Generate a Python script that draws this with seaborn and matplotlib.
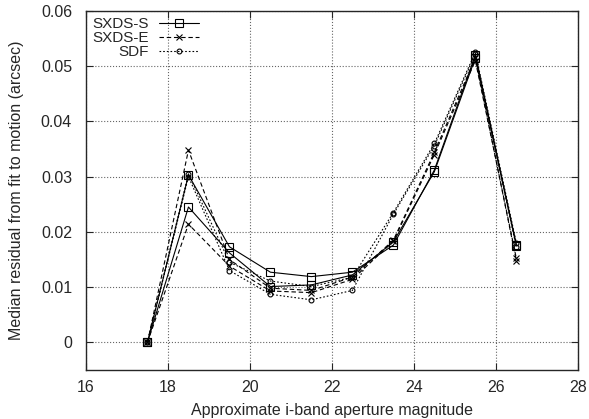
import matplotlib
matplotlib.use("Agg")
import matplotlib.pyplot as plt
import seaborn as sns
import pandas as pd

# Data (two runs per field)
mag = [17.5, 18.5, 19.5, 20.5, 21.5, 22.5, 23.5, 24.5, 25.5, 26.5]
sxds_s_a = [0, 0.0303, 0.0173, 0.0127, 0.0119, 0.0127, 0.0176, 0.0312, 0.0520, 0.0177]
sxds_s_b = [0, 0.0245, 0.0162, 0.0101, 0.0104, 0.0122, 0.0182, 0.0309, 0.0515, 0.0175]
sxds_e_a = [0, 0.0348, 0.0150, 0.0098, 0.0094, 0.0118, 0.0185, 0.0344, 0.0515, 0.0148]
sxds_e_b = [0, 0.0214, 0.0138, 0.0093, 0.0090, 0.0114, 0.0183, 0.0340, 0.0510, 0.0152]
sdf_a = [0, 0.0305, 0.0145, 0.0111, 0.0101, 0.0118, 0.0235, 0.0360, 0.0525, 0.0180]
sdf_b = [0, 0.0300, 0.0130, 0.0087, 0.0077, 0.0094, 0.0232, 0.0356, 0.0522, 0.0172]

x_ticks = [16, 18, 20, 22, 24, 26, 28]
y_ticks = [0, 0.01, 0.02, 0.03, 0.04, 0.05, 0.06]
y_labels = ["0", "0.01", "0.02", "0.03", "0.04", "0.05", "0.06"]

sns.set_style("ticks")
plt.rcParams["font.family"] = ["Liberation Sans", "DejaVu Sans"]

fig = plt.figure(figsize=(5.89, 4.19), dpi=100)
ax = fig.add_axes([0.146, 0.117, 0.835, 0.857])

styles = {
    "SXDS-S": dict(linestyle="-", marker="s", markersize=6),
    "SXDS-E": dict(linestyle=(0, (4, 2.5)), marker="x", markersize=4),
    "SDF": dict(linestyle=(0, (1.5, 1.8)), marker="o", markersize=3.5),
}
runs = [("SXDS-S", sxds_s_a), ("SXDS-S", sxds_s_b),
        ("SXDS-E", sxds_e_a), ("SXDS-E", sxds_e_b),
        ("SDF", sdf_a), ("SDF", sdf_b)]

seen = set()
for name, vals in runs:
    df = pd.DataFrame({"mag": mag, "resid": vals})
    lab = name if name not in seen else None
    seen.add(name)
    sns.lineplot(data=df, x="mag", y="resid", ax=ax, color="black",
                 linewidth=0.8, markerfacecolor="none", markeredgecolor="black",
                 markeredgewidth=0.8, label=lab, legend=False, **styles[name])

ax.set_xlim(16, 28)
ax.set_ylim(-0.005, 0.06)
ax.set_xticks(x_ticks)
ax.set_yticks(y_ticks)
ax.set_yticklabels(y_labels)
ax.tick_params(direction="in", top=True, right=True, length=5, width=0.8,
               labelsize=11.5, pad=7)
ax.tick_params(axis="y", pad=10)
ax.grid(True, linestyle=":", color="#666666", linewidth=0.8)
for sp in ax.spines.values():
    sp.set_linewidth(1.0)

ax.set_xlabel("Approximate i-band aperture magnitude", fontsize=11.5, labelpad=6)
ax.set_ylabel("Median residual from fit to motion (arcsec)", fontsize=11.5, labelpad=12)

handles, labels = ax.get_legend_handles_labels()
ax.legend(handles, labels, loc="upper left", markerfirst=False, frameon=False,
          fontsize=11, handlelength=2.6, labelspacing=0.0, handletextpad=0.7,
          borderaxespad=0.2, borderpad=0.2, numpoints=1)

fig.savefig("out.png", dpi=100)
